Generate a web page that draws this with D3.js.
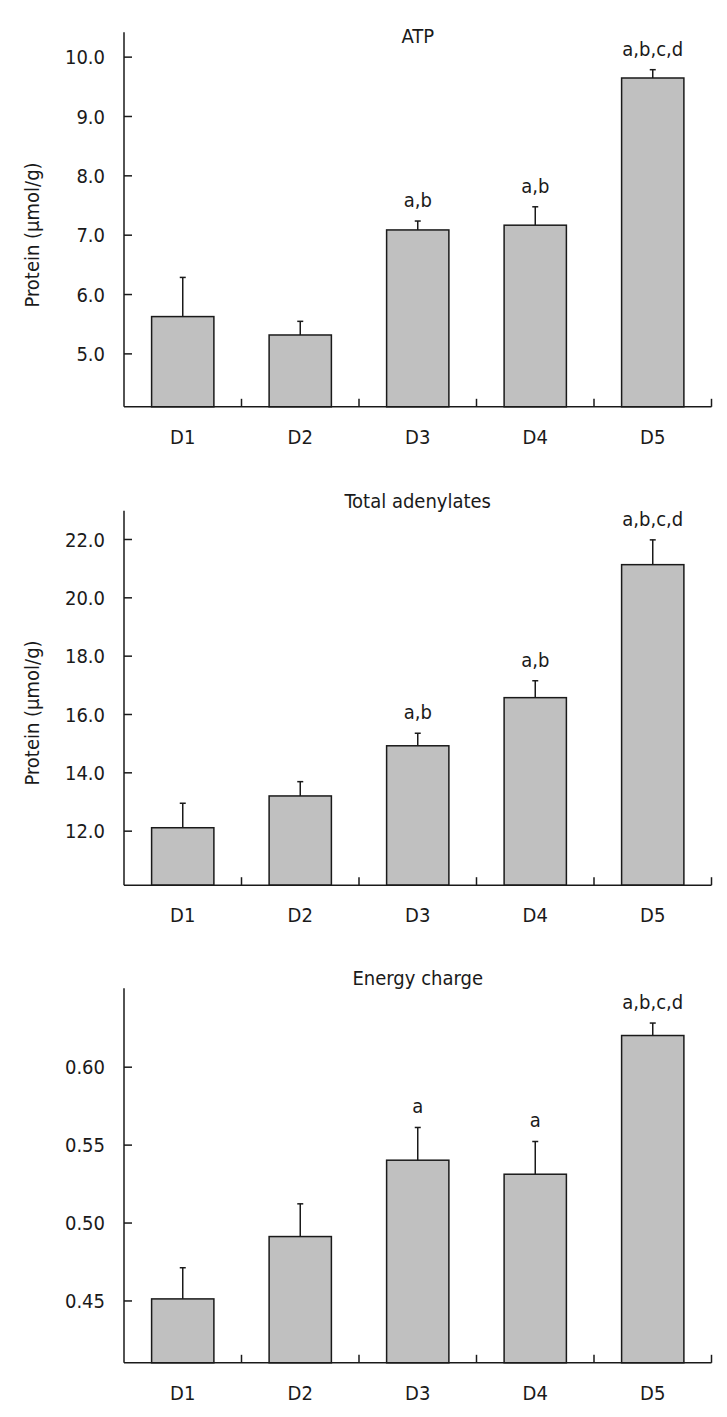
<!DOCTYPE html>
<html>
<head>
<meta charset="utf-8">
<script src="https://cdn.jsdelivr.net/npm/d3@7"></script>
<style>
  html, body { margin: 0; padding: 0; background: #fff; }
  svg { display: block; }
  text { font-family: "DejaVu Sans Condensed", "DejaVu Sans", sans-serif; fill: #1a1a1a; }
</style>
</head>
<body>
<script>
// ---------- data ----------
const categories = ["D1", "D2", "D3", "D4", "D5"];

const atpTitle = "ATP";
const atpValues = [5.62, 5.31, 7.08, 7.16, 9.64];
const atpErrors = [0.66, 0.23, 0.15, 0.31, 0.14];
const atpLabels = ["", "", "a,b", "a,b", "a,b,c,d"];
const atpTicks = [5.0, 6.0, 7.0, 8.0, 9.0, 10.0];
const atpDomain = [4.1, 10.41];

const adenTitle = "Total adenylates";
const adenValues = [12.10, 13.19, 14.91, 16.56, 21.12];
const adenErrors = [0.84, 0.49, 0.43, 0.58, 0.85];
const adenLabels = ["", "", "a,b", "a,b", "a,b,c,d"];
const adenTicks = [12.0, 14.0, 16.0, 18.0, 20.0, 22.0];
const adenDomain = [10.13, 22.97];

const ecTitle = "Energy charge";
const ecValues = [0.451, 0.491, 0.540, 0.531, 0.620];
const ecErrors = [0.020, 0.021, 0.021, 0.021, 0.008];
const ecLabels = ["", "", "a", "a", "a,b,c,d"];
const ecTicks = [0.45, 0.50, 0.55, 0.60];
const ecDomain = [0.41, 0.6503];

const yAxisLabel = "Protein (μmol/g)";

// ---------- layout ----------
const W = 727, H = 1417;
const left = 124, right = 711.5, plotH = 374.5;
const panels = [
  { top: 32.3, title: atpTitle, titleDy: 11, values: atpValues, errors: atpErrors, labels: atpLabels, ticks: atpTicks, domain: atpDomain, fmt: d3.format(".1f"), ylabel: true, ylabelY: 235 },
  { top: 510.7, title: adenTitle, titleDy: -3, values: adenValues, errors: adenErrors, labels: adenLabels, ticks: adenTicks, domain: adenDomain, fmt: d3.format(".1f"), ylabel: true, ylabelY: 713 },
  { top: 988.3, title: ecTitle, titleDy: -3.3, values: ecValues, errors: ecErrors, labels: ecLabels, ticks: ecTicks, domain: ecDomain, fmt: d3.format(".2f"), ylabel: false }
];

const svg = d3.select("body").append("svg").attr("width", W).attr("height", H);

const x = d3.scaleBand().domain(categories).range([left, right]).paddingInner(0).paddingOuter(0);
const barW = x.bandwidth() * 0.53;
const stroke = "#1a1a1a";

panels.forEach(p => {
  const g = svg.append("g");
  const y = d3.scaleLinear().domain(p.domain).range([p.top + plotH, p.top]);
  const bottom = p.top + plotH;

  // title
  g.append("text")
    .attr("x", (left + right) / 2)
    .attr("y", p.top + p.titleDy)
    .attr("text-anchor", "middle")
    .attr("font-size", 20)
    .text(p.title);

  // bars
  const data = categories.map((c, i) => ({ c, v: p.values[i], e: p.errors[i], l: p.labels[i] }));

  // error bars
  g.selectAll("line.err").data(data).join("line")
    .attr("x1", d => x(d.c) + x.bandwidth() / 2)
    .attr("x2", d => x(d.c) + x.bandwidth() / 2)
    .attr("y1", d => y(d.v))
    .attr("y2", d => y(d.v + d.e))
    .attr("stroke", stroke).attr("stroke-width", 1.5);
  g.selectAll("line.cap").data(data).join("line")
    .attr("x1", d => x(d.c) + x.bandwidth() / 2 - 3)
    .attr("x2", d => x(d.c) + x.bandwidth() / 2 + 3)
    .attr("y1", d => y(d.v + d.e))
    .attr("y2", d => y(d.v + d.e))
    .attr("stroke", stroke).attr("stroke-width", 1.5);

  g.selectAll("rect.bar").data(data).join("rect")
    .attr("x", d => x(d.c) + (x.bandwidth() - barW) / 2)
    .attr("width", barW)
    .attr("y", d => y(d.v))
    .attr("height", d => bottom - y(d.v))
    .attr("fill", "#c0c0c0")
    .attr("stroke", stroke).attr("stroke-width", 1.5);

  // significance labels
  g.selectAll("text.sig").data(data.filter(d => d.l)).join("text")
    .attr("x", d => x(d.c) + x.bandwidth() / 2)
    .attr("y", d => y(d.v + d.e) - 14)
    .attr("text-anchor", "middle")
    .attr("font-size", 20)
    .text(d => d.l);

  // y axis
  const yAxis = d3.axisRight(y).tickValues(p.ticks).tickSize(8).tickFormat(p.fmt);
  const ya = g.append("g").attr("transform", `translate(${left},0)`).call(yAxis);
  ya.select(".domain").remove();
  ya.selectAll(".tick line").attr("stroke", stroke).attr("stroke-width", 1.5);
  ya.selectAll(".tick text")
    .attr("x", -19).attr("dy", "0.36em")
    .attr("text-anchor", "end")
    .attr("font-size", 20)
    .attr("font-family", null)
    .attr("fill", "#1a1a1a");
  g.append("line")
    .attr("x1", left).attr("x2", left)
    .attr("y1", p.top).attr("y2", bottom)
    .attr("stroke", stroke).attr("stroke-width", 1.5);

  // x axis
  g.append("line")
    .attr("x1", left).attr("x2", right)
    .attr("y1", bottom).attr("y2", bottom)
    .attr("stroke", stroke).attr("stroke-width", 1.5);
  g.selectAll("line.xt").data(categories).join("line")
    .attr("x1", d => x(d) + x.bandwidth())
    .attr("x2", d => x(d) + x.bandwidth())
    .attr("y1", bottom).attr("y2", bottom - 8)
    .attr("stroke", stroke).attr("stroke-width", 1.5);
  g.selectAll("text.xl").data(categories).join("text")
    .attr("x", d => x(d) + x.bandwidth() / 2)
    .attr("y", bottom + 37)
    .attr("text-anchor", "middle")
    .attr("font-size", 20)
    .text(d => d);

  if (p.ylabel) {
    g.append("text")
      .attr("transform", `translate(39,${p.ylabelY}) rotate(-90)`)
      .attr("text-anchor", "middle")
      .attr("font-size", 20)
      .text(yAxisLabel);
  }
});
</script>
</body>
</html>
